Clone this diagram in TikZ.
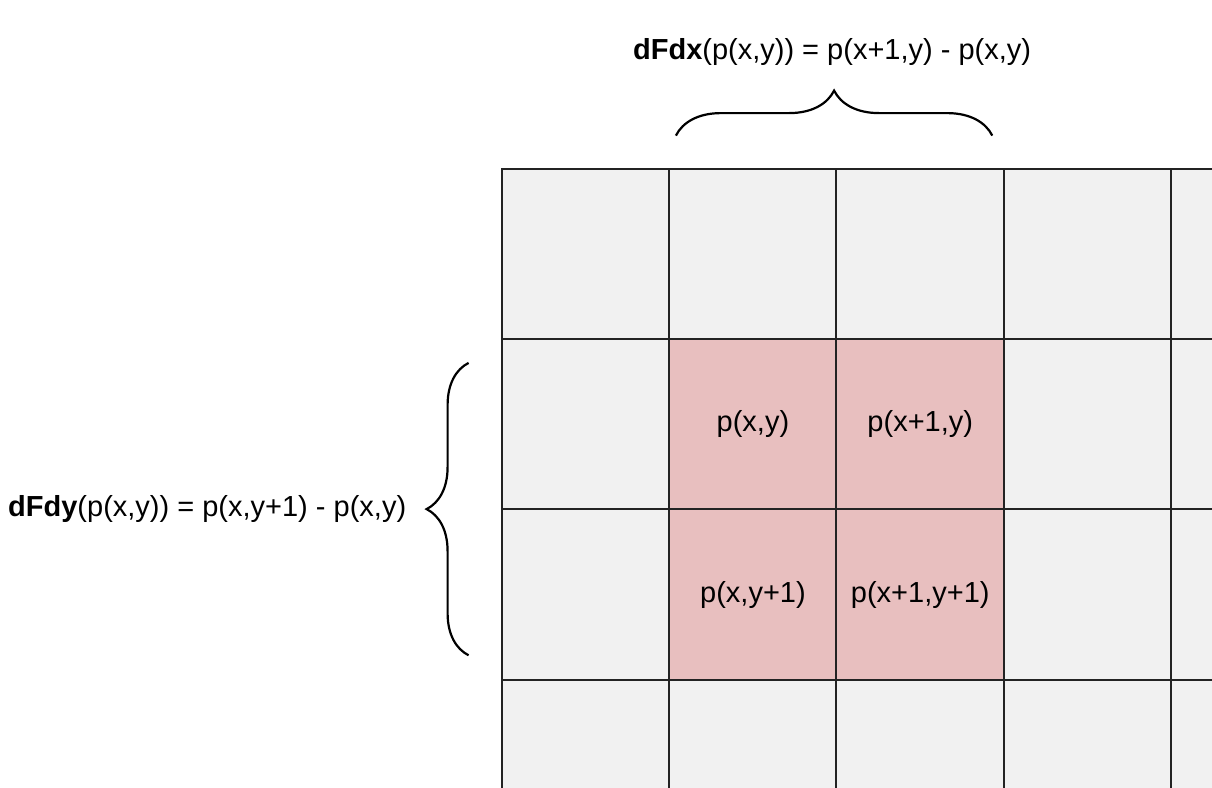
\documentclass[tikz,border=0pt]{standalone}
\usepackage{fontspec}
\setmainfont{Liberation Sans}
\usetikzlibrary{calc,positioning,decorations.pathreplacing}
\definecolor{CellClr}{RGB}{241,241,241}
\definecolor{PinkClr}{RGB}{232,191,191}
\definecolor{GridClr}{RGB}{35,35,35}

\begin{document}
\begin{tikzpicture}[x=0.5pt,y=-0.5pt,
  cell/.style={fill=CellClr,minimum width=83.65pt,minimum height=85.15pt,inner sep=0pt},
  pinkcell/.style={cell,fill=PinkClr},
  gridline/.style={draw=GridClr,line width=1pt},
  lbl/.style={font=\fontsize{14.5}{17}\selectfont,inner sep=0pt},
  brc/.style={decorate,decoration={brace,amplitude=#1},line width=1.1pt}]
\useasboundingbox (0,0) rectangle (1212,788);

% grid, cut at the picture edge
\begin{scope}
\clip (0,0) rectangle (1212,788);
\foreach \i in {0,...,4}
  \foreach \j in {0,...,3} {
    \pgfmathtruncatemacro\inpink{and(and(\i>0,\i<3),and(\j>0,\j<3))}
    \ifnum\inpink=1 \def\cst{pinkcell}\else\def\cst{cell}\fi
    \node[\cst] (c\i\j) at ({585.65+167.3*\i},{254.15+170.3*\j}) {};
  }
% left and top edge of every cell, so each line is drawn once
\foreach \i in {0,...,4}
  \foreach \j in {0,...,3}
    \draw[gridline] (c\i\j.south west) -- (c\i\j.north west) -- (c\i\j.north east);
\end{scope}

\node[lbl] (pxy) at (c11) {p(x,y)};
\node[lbl] (pxay) at (c21) {p(x+1,y)};
\node[lbl] (pxya) at (c12) {p(x,y+1)};
\node[lbl] (pxaya) at (c22) {p(x+1,y+1)};

% braces
\coordinate (bx1) at ($(c10.north west)+(7,-33)$);
\coordinate (bx2) at ($(c20.north east)+(-12,-33)$);
\coordinate (by1) at ($(c02.south west)+(-33,-25)$);
\coordinate (by2) at ($(c01.north west)+(-33,24)$);
\draw[brc=22.5pt] (bx1) -- (bx2);
\draw[brc=21pt] (by1) -- (by2);

\node[lbl] (dfdx) at ($(bx1)!0.5!(bx2)+(-2,-84)$)
  {\textbf{dFdx}(p(x,y)) = p(x+1,y) - p(x,y)};
\node[lbl,anchor=east] (dfdy) at ($(by1)!0.5!(by2)+(-62,0)$)
  {\textbf{dFdy}(p(x,y)) = p(x,y+1) - p(x,y)};

\end{tikzpicture}
\end{document}
